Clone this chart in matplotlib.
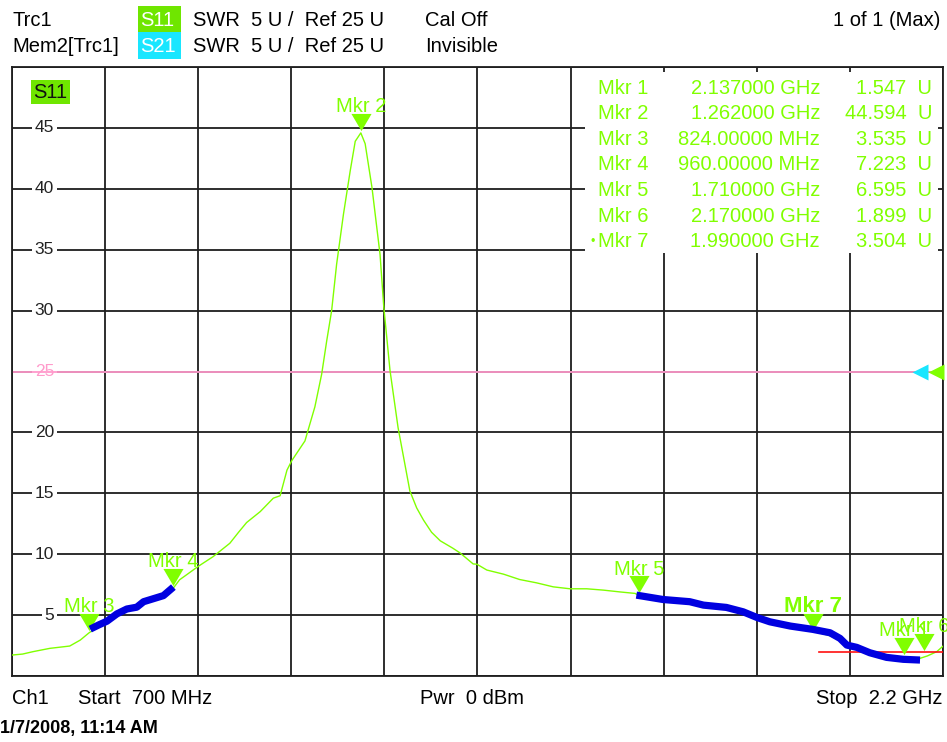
import matplotlib
matplotlib.use("Agg")
import matplotlib.pyplot as plt
from matplotlib import patches, transforms

W, H = 947, 742

# S11 trace (SWR)
freq_mhz = [700, 717, 734, 761, 793, 810, 824, 840, 853, 869, 885, 901, 912, 928, 944,
            960, 970, 981, 1000, 1024, 1051, 1065, 1078, 1100, 1121, 1132, 1143, 1151,
            1172, 1188, 1199, 1207, 1215, 1223, 1234, 1245, 1253, 1262, 1269, 1280, 1293,
            1299, 1309, 1322, 1341, 1352, 1363, 1376, 1390, 1410, 1422, 1443, 1449, 1465,
            1492, 1518, 1545, 1572, 1599, 1626, 1653, 1680, 1704, 1710, 1749, 1792, 1814,
            1851, 1878, 1900, 1921, 1954, 1990, 2018, 2034, 2045, 2061, 2082, 2109, 2137,
            2163, 2175, 2190, 2200]
swr = [1.72, 1.80, 2.00, 2.27, 2.46, 2.95, 3.54, 4.1, 4.5, 5.1, 5.5, 5.7, 6.1, 6.4, 6.6,
       7.22, 7.9, 8.3, 9.0, 9.8, 10.9, 11.8, 12.6, 13.5, 14.6, 14.8, 16.9, 17.7,
       19.3, 22.1, 24.8, 27.5, 30.0, 33.8, 37.9, 41.5, 43.9, 44.59, 43.7, 40.1, 34.6,
       30.3, 25.1, 20.4, 15.2, 13.8, 12.8, 11.8, 11.1, 10.5, 10.1, 9.2, 9.18, 8.7,
       8.36, 7.92, 7.65, 7.32, 7.16, 7.16, 7.05, 6.9, 6.78, 6.6, 6.28, 6.1, 5.82,
       5.63, 5.27, 4.81, 4.45, 4.1, 3.7, 3.3, 2.95, 2.54, 2.35, 1.91, 1.6, 1.55,
       1.45, 1.65, 2.0, 2.45]

# thick blue band segments
band_a_freq = [826, 840, 853, 869, 885, 901, 912, 928, 944, 960]
band_a_swr = [3.85, 4.2, 4.5, 5.1, 5.5, 5.65, 6.1, 6.35, 6.6, 7.3]
band_b_freq = [1706, 1749, 1792, 1814, 1851, 1878, 1900, 1921, 1954, 1990, 2018, 2034,
               2045, 2061, 2082, 2109, 2136, 2163]
band_b_swr = [6.64, 6.28, 6.1, 5.82, 5.63, 5.27, 4.81, 4.45, 4.1, 3.83, 3.55, 3.09,
              2.54, 2.35, 1.91, 1.53, 1.37, 1.31]

# markers
marker_ids = [1, 2, 3, 4, 5, 6, 7]
marker_freq = [2137, 1262, 824, 960, 1710, 2170, 1990]
marker_swr = [1.547, 44.594, 3.535, 7.223, 6.595, 1.899, 3.504]
active_marker = 7

limit_freq = [2000, 2200]
limit_swr = [2.0, 2.0]
ref_level = 25
y_labels = [5, 10, 15, 20, 25, 30, 35, 40, 45]

GREEN = "#80ff00"
BOX_GREEN = "#6fe600"
CYAN = "#19e6ff"
PINK = "#ff9acb"
BLUE = "#0000e0"
GRID = "#1e1e1e"
FS = 14.5

plt.rcParams["font.family"] = ["Liberation Sans", "DejaVu Sans"]

fig = plt.figure(figsize=(W / 100, H / 100), dpi=100)
ax = fig.add_axes([12 / W, (H - 676) / H, 931 / W, 609 / H])


def px(x, y):
    return x / W, 1 - y / H


def ftext(x, y, s, **kw):
    kw.setdefault("fontsize", FS)
    kw.setdefault("va", "center")
    fig.text(*px(x, y), s, **kw)


def fbox(x0, y0, x1, y1, color):
    fig.patches.append(patches.Rectangle(px(x0, y1), (x1 - x0) / W, (y1 - y0) / H,
                                         transform=fig.transFigure, facecolor=color,
                                         edgecolor="none"))


# grid
ax.set_xlim(700, 2200)
ax.set_ylim(0, 50)
ax.set_xticks(range(700, 2201, 150))
ax.set_yticks(range(0, 51, 5))
ax.grid(True, color=GRID, lw=1.3)
ax.set_axisbelow(True)
ax.tick_params(length=0, labelbottom=False, labelleft=False)
for sp in ax.spines.values():
    sp.set_color(GRID)
    sp.set_linewidth(1.3)

# white panel behind the marker table
ax.add_patch(patches.Rectangle(((585 - 12) / 931, (676 - 253) / 609), (938 - 585) / 931,
                               (253 - 72) / 609, transform=ax.transAxes,
                               facecolor="white", edgecolor="none", zorder=1.5))

# y labels inside the plot
for v in y_labels:
    ax.text((54 - 12) / 931, v, str(v), transform=ax.get_yaxis_transform(),
            ha="right", va="center", fontsize=12.5,
            color=PINK if v == ref_level else "#222222",
            bbox=dict(boxstyle="square,pad=0.15", fc="white", ec="none"), zorder=2)

ax.axhline(ref_level, color=PINK, lw=1.3, zorder=2.5)
ax.plot(freq_mhz, swr, color=GREEN, lw=1.0, zorder=3)
ax.plot(limit_freq, limit_swr, color="#ff1010", lw=1.2, zorder=3)

# marker triangles, tip just above the marker value
tri = [(-1, 0.85), (1, 0.85), (0, -0.85)]
ms = 14.5
shift = transforms.offset_copy(ax.transData, fig=fig, y=0.425 * ms + 2, units="points")
ax.plot(marker_freq, marker_swr, ls="none", marker=tri, ms=ms, color=GREEN,
        mec="none", transform=shift, zorder=4, clip_on=False)
for mid, f, v in zip(marker_ids, marker_freq, marker_swr):
    bold = mid == active_marker
    ax.annotate(f"Mkr {mid}", (f, v), xytext=(0, 15), textcoords="offset points",
                ha="center", va="baseline", color=GREEN,
                fontsize=FS + 1.5 if bold else FS,
                fontweight="bold" if bold else "normal", zorder=4, annotation_clip=False)

# thick blue bands
for bf, bs in [(band_a_freq, band_a_swr), (band_b_freq, band_b_swr)]:
    ax.plot(bf, bs, color=BLUE, lw=5.2, solid_capstyle="butt",
            solid_joinstyle="round", zorder=5)

# reference level arrows at the right edge
ax.plot([(920 - 12) / 931], [ref_level], marker="<", ms=11, color=CYAN, mec="none",
        transform=ax.get_yaxis_transform(), clip_on=False, zorder=5)
ax.plot([(936 - 12) / 931], [ref_level], marker="<", ms=11, color=GREEN, mec="none",
        transform=ax.get_yaxis_transform(), clip_on=False, zorder=5)

# S11 tag in plot
ax.text((33 - 12) / 931, (676 - 92) / 609, "S11", transform=ax.transAxes, fontsize=FS,
        ha="left", va="center", color="#111111",
        bbox=dict(boxstyle="square,pad=0.12", fc=BOX_GREEN, ec="none"), zorder=5)

# marker table
row_y0, row_dy = 88, 25.6
for i, (mid, f, v) in enumerate(zip(marker_ids, marker_freq, marker_swr)):
    y = row_y0 + i * row_dy
    fstr = f"{f / 1000:.6f} GHz" if f >= 1000 else f"{f:.5f} MHz"
    ftext(598, y, f"Mkr {mid}", color=GREEN)
    ftext(820, y, fstr, color=GREEN, ha="right")
    ftext(932, y, f"{v:.3f}  U", color=GREEN, ha="right")
    if mid == active_marker:
        ftext(590, y, "•", color=GREEN, fontsize=9)

# header
fbox(138, 6, 181, 32, BOX_GREEN)
fbox(138, 32, 181, 59, CYAN)
ftext(12, 20, "Trc1")
ftext(12, 46, "Mem2[Trc1]")
ftext(140, 20, "S11", color="white")
ftext(140, 46, "S21", color="white")
ftext(193, 20, "SWR  5 U /  Ref 25 U")
ftext(193, 46, "SWR  5 U /  Ref 25 U")
ftext(425, 20, "Cal Off")
ftext(425, 46, "Invisible")
ftext(940, 20, "1 of 1 (Max)", ha="right")

# footer
ftext(12, 698, "Ch1")
ftext(78, 698, "Start  700 MHz")
ftext(420, 698, "Pwr  0 dBm")
ftext(942, 698, "Stop  2.2 GHz", ha="right")
ftext(0, 729, "1/7/2008, 11:14 AM", fontsize=13, fontweight="bold")

fig.savefig("out.png", dpi=100)
